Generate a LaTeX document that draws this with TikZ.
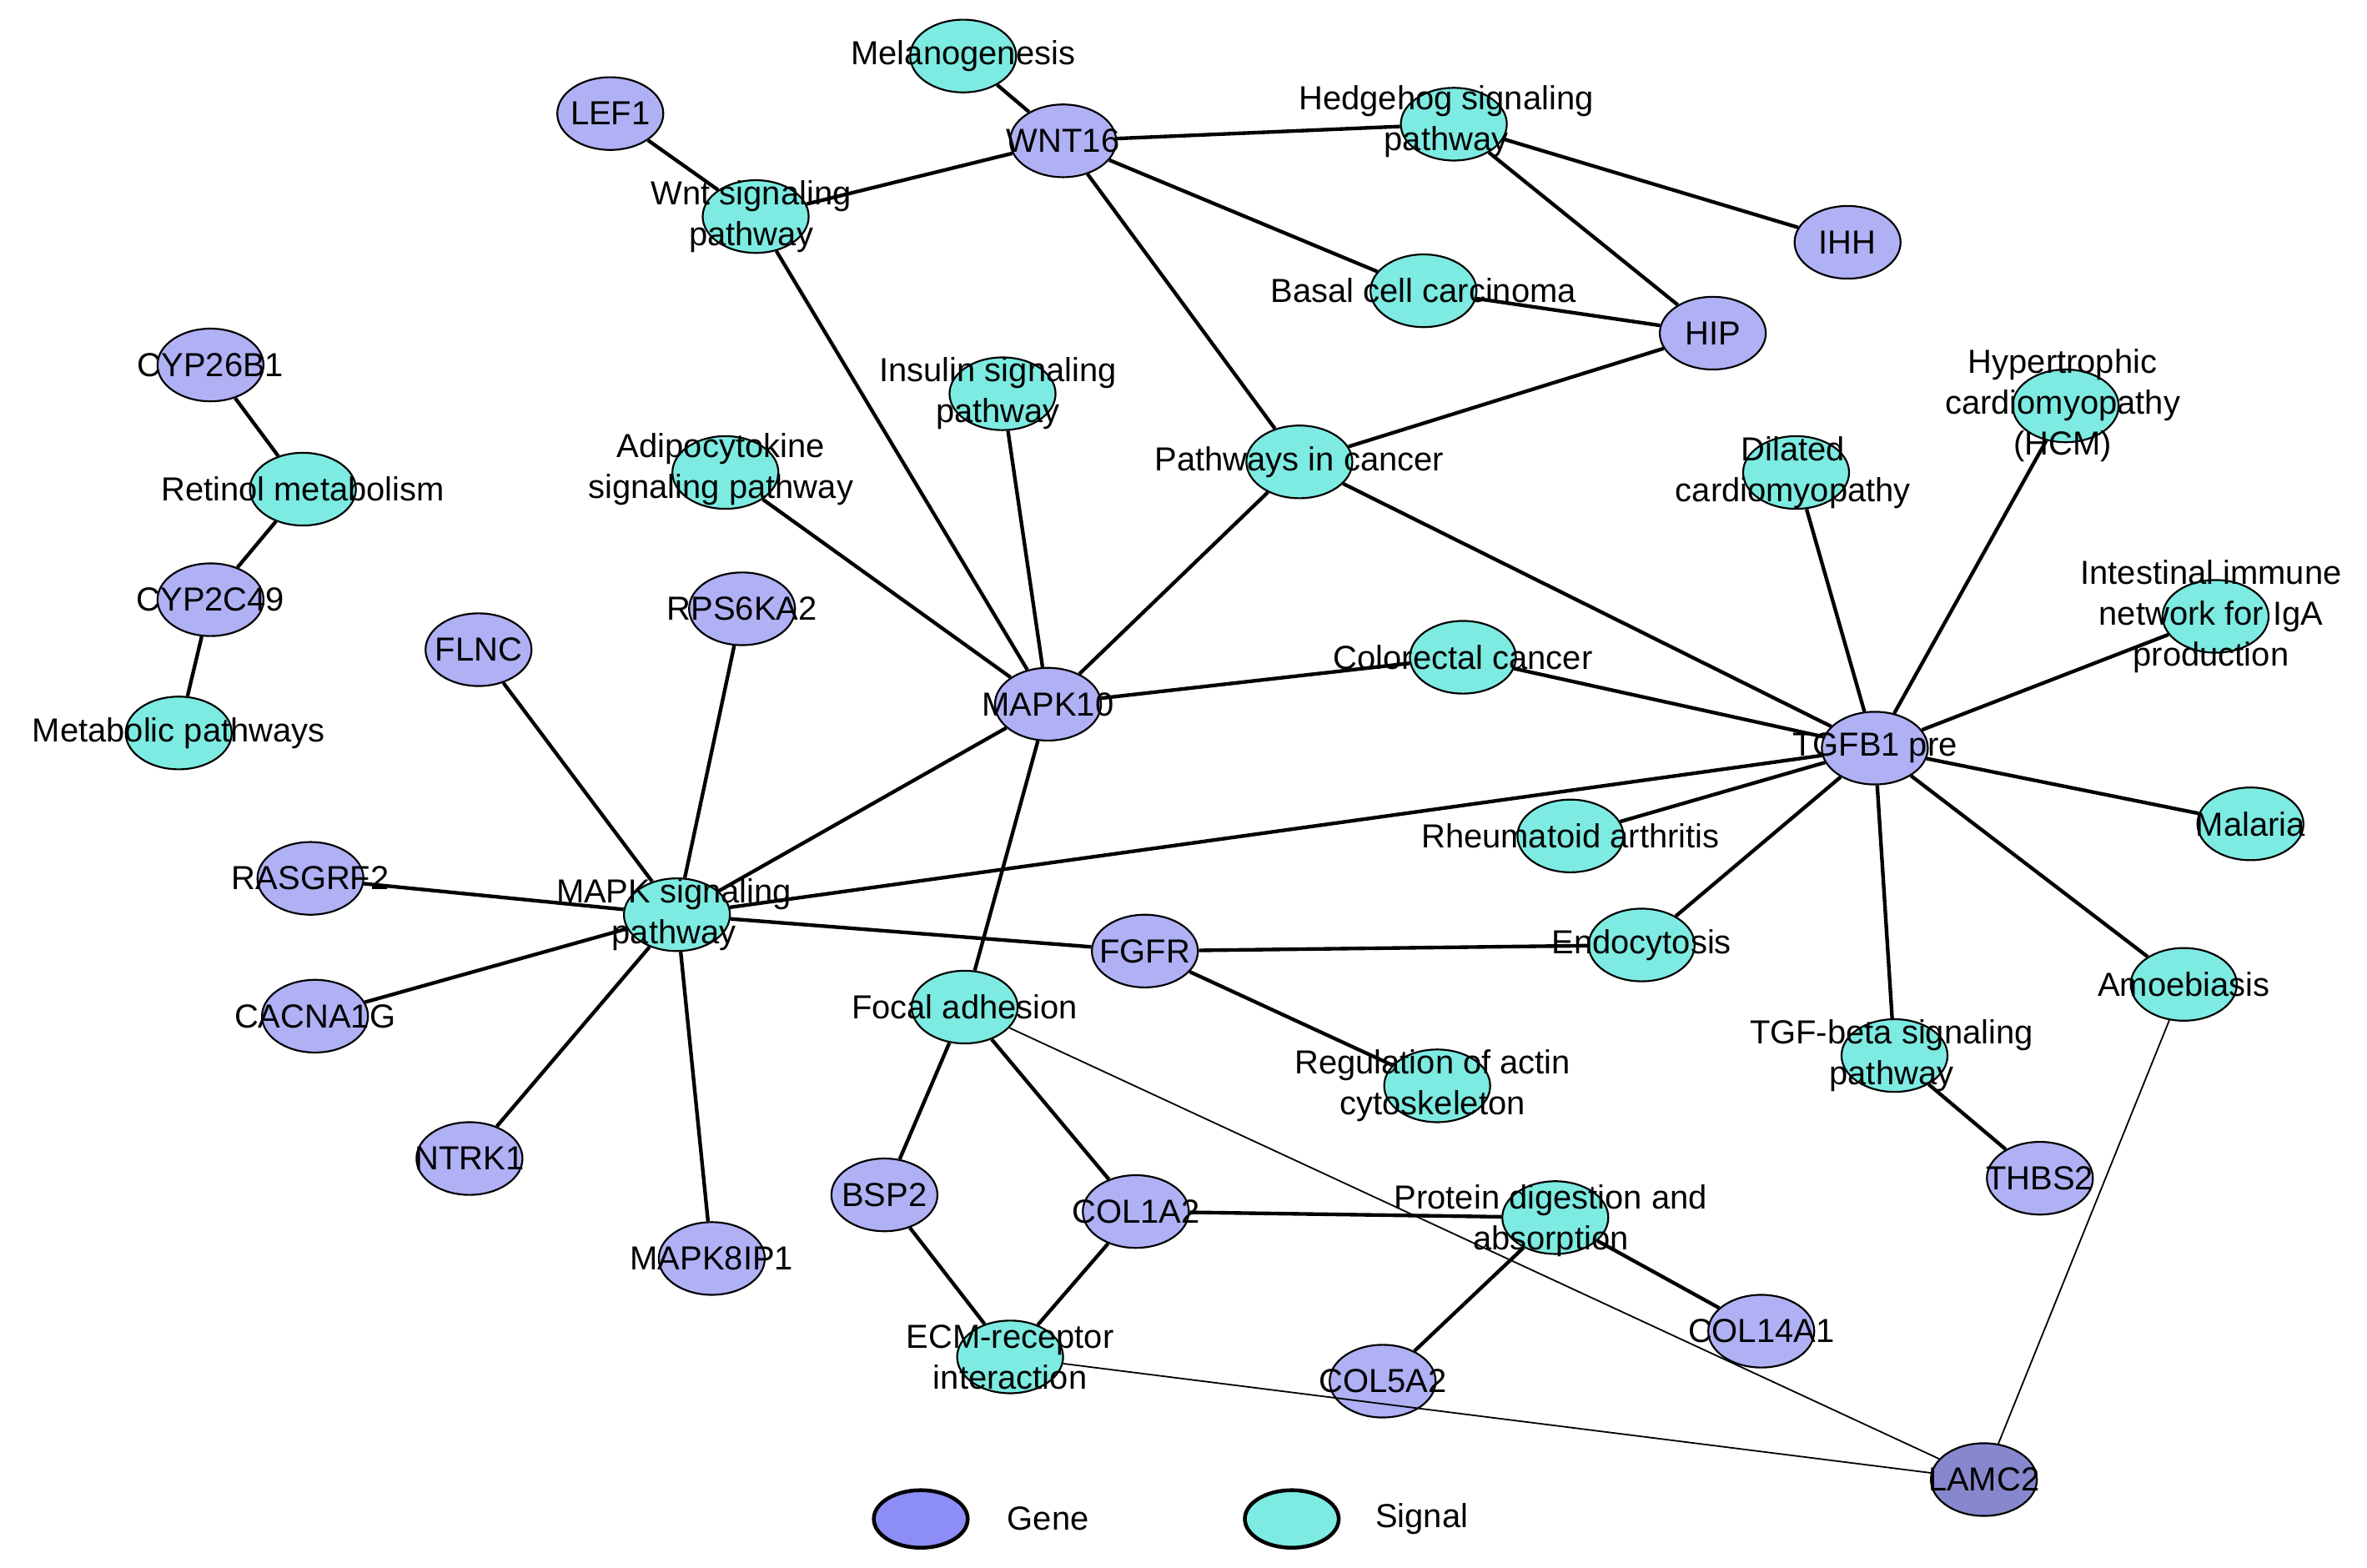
\documentclass[tikz,border=0pt]{standalone}
\usepackage{fontspec}
\setmainfont{Liberation Sans}
\usetikzlibrary{shapes.geometric}
\definecolor{genec}{RGB}{176,176,245}
\definecolor{sigc}{RGB}{125,235,225}
\definecolor{lamc}{RGB}{135,135,205}
\begin{document}
\begin{tikzpicture}[x=1pt,y=-1pt,
 gene/.style={ellipse,draw=black,line width=1.2pt,fill=genec,minimum width=70pt,minimum height=48pt,inner sep=0pt},
 sig/.style={ellipse,draw=black,line width=1.2pt,fill=sigc,minimum width=70pt,minimum height=48pt,inner sep=0pt},
 lbl/.style={font=\fontsize{22}{27}\selectfont,align=center,inner sep=0pt},
 e/.style={line width=2.4pt},
 t/.style={line width=1pt}]
\useasboundingbox (0,0) rectangle (1563,1035);
% genes
\foreach \n/\x/\y in {LEF1/403/75,WNT16/702/93,IHH/1220/160,HIP/1131/220,CYP26B1/139/241,CYP2C49/139/396,FLNC/316/429,RPS6KA2/490/402,MAPK10/692/465,TGFB1/1238/494,RASGRF2/205/580,CACNA1G/208/671,FGFR/756/628,NTRK1/310/765,BSP2/584/789,COL1A2/750/800,MAPK8IP1/470/831,THBS2/1347/778,COL14A1/1163/879,COL5A2/913/912}
  \node[gene] (\n) at (\x,\y) {};
\node[gene,fill=lamc] (LAMC2) at (1310,977) {};
% signals
\foreach \n/\x/\y in {mel/636/37,hed/960/82,wnt/499/143,bas/940/192,ins/662/260,ret/200/323,adi/479/312,pic/858/305,dil/1186/312,hyp/1364/268,iga/1463/407,col/966/434,met/118/484,rhe/1037/552,mal/1486/544,mapk/447/604,endo/1084/624,amo/1442/650,foc/637/665,reg/949/717,tgf/1251/697,pro/1027/804,ecm/667/896}
  \node[sig] (\n) at (\x,\y) {};
% edges
\begin{scope}[on background layer/.style={}]
\end{scope}
\foreach \a/\b in {LEF1/wnt,wnt/WNT16,WNT16/mel,WNT16/hed,WNT16/bas,WNT16/pic,hed/IHH,hed/HIP,bas/HIP,HIP/pic,wnt/MAPK10,ins/MAPK10,adi/MAPK10,pic/MAPK10,pic/TGFB1,CYP26B1/ret,ret/CYP2C49,CYP2C49/met,MAPK10/col,col/TGFB1,MAPK10/mapk,MAPK10/foc,dil/TGFB1,hyp/TGFB1,iga/TGFB1,TGFB1/mal,TGFB1/amo,TGFB1/rhe,TGFB1/endo,TGFB1/tgf,TGFB1/mapk,FLNC/mapk,RPS6KA2/mapk,RASGRF2/mapk,CACNA1G/mapk,NTRK1/mapk,MAPK8IP1/mapk,mapk/FGFR,FGFR/endo,FGFR/reg,foc/BSP2,foc/COL1A2,BSP2/ecm,COL1A2/ecm,COL1A2/pro,pro/COL14A1,pro/COL5A2,tgf/THBS2}
  \draw[e] (\a) -- (\b);
\draw[t] (foc) -- (LAMC2);
\draw[t] (ecm) -- (LAMC2);
\draw[t] (amo) -- (LAMC2);
% labels
\foreach \n/\s in {LEF1/LEF1,WNT16/WNT16,IHH/IHH,HIP/HIP,CYP26B1/CYP26B1,CYP2C49/CYP2C49,FLNC/FLNC,RPS6KA2/RPS6KA2,MAPK10/MAPK10,TGFB1/TGFB1 pre,RASGRF2/RASGRF2,CACNA1G/CACNA1G,FGFR/FGFR,NTRK1/NTRK1,BSP2/BSP2,COL1A2/COL1A2,MAPK8IP1/MAPK8IP1,THBS2/THBS2,COL14A1/COL14A1,COL5A2/COL5A2,LAMC2/LAMC2,mel/Melanogenesis,bas/Basal cell carcinoma,ret/Retinol metabolism,col/Colorectal cancer,met/Metabolic pathways,rhe/Rheumatoid arthritis,mal/Malaria,endo/Endocytosis,amo/Amoebiasis,foc/Focal adhesion}
  \node[lbl] at (\n) {\s};
\node[lbl] at (955,80) {Hedgehog signaling\\pathway};
\node[lbl] at (496,143) {Wnt signaling\\pathway};
\node[lbl] at (659,260) {Insulin signaling\\pathway};
\node[lbl] at (476,310) {Adipocytokine\\signaling pathway};
\node[lbl] at (858,305) {Pathways in cancer};
\node[lbl] at (1184,312) {Dilated\\cardiomyopathy};
\node[lbl] at (1362,268) {Hypertrophic\\cardiomyopathy\\(HCM)};
\node[lbl] at (1460,407) {Intestinal immune\\network for IgA\\production};
\node[lbl] at (445,604) {MAPK signaling\\pathway};
\node[lbl] at (946,717) {Regulation of actin\\cytoskeleton};
\node[lbl] at (1249,697) {TGF-beta signaling\\pathway};
\node[lbl] at (1024,806) {Protein digestion and\\absorption};
\node[lbl] at (667,896) {ECM-receptor\\interaction};
% legend
\node[ellipse,draw=black,line width=2.5pt,fill=genec!80!blue,minimum width=62pt,minimum height=38pt] (lg) at (608,1003) {};
\node[lbl,anchor=west] (lgt) at (665,1003) {Gene};
\node[ellipse,draw=black,line width=2.5pt,fill=sigc,minimum width=62pt,minimum height=38pt] (ls) at (853,1003) {};
\node[lbl,anchor=west] (lst) at (908,1003) {Signal};
\end{tikzpicture}
\end{document}
